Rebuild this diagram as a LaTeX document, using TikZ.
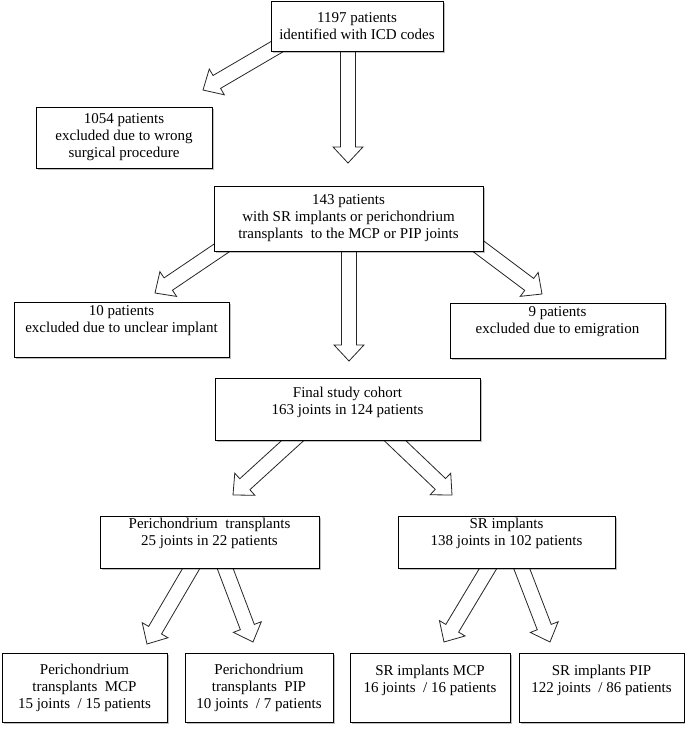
\documentclass[tikz,border=0pt]{standalone}
\usepackage{fontspec}
\setmainfont{Liberation Serif}
\usetikzlibrary{calc,shadows,backgrounds}

% hollow block arrow from #1 to the tip #2
\newcommand{\blockarrow}[2]{%
	\coordinate (hb) at ($(#2)!12pt!(#1)$);
	\draw [hollow] ($(#1)!5.6pt!90:(#2)$) -- ($(hb)!5.6pt!90:(#2)$) -- ($(hb)!11.2pt!90:(#2)$) -- (#2)
		-- ($(hb)!11.2pt!-90:(#2)$) -- ($(hb)!5.6pt!-90:(#2)$) -- ($(#1)!5.6pt!-90:(#2)$) -- cycle;}

\begin{document}
\begin{tikzpicture}[x=0.75pt,y=-0.75pt,
		box/.style={draw, line width=0.75pt, fill=white, align=center, inner sep=0pt,
			font=\fontsize{11.25}{12.75}\selectfont,
			drop shadow={shadow xshift=1.2pt, shadow yshift=-1.2pt, fill=black, opacity=0.25}},
		hollow/.style={draw=black!85, line width=0.6pt, fill=white, line join=miter}]
		\useasboundingbox (0,0) rectangle (685,729);
		\node [box, minimum width=129pt, minimum height=37.5pt] (Id) at (357,26) {1197 patients\\identified with ICD codes};
		\node [box, minimum width=132pt, minimum height=45.75pt] (Wr) at (124,137.5) {1054 patients\\excluded due to wrong\\surgical procedure};
		\node [box, minimum width=201.75pt, minimum height=48.75pt] (Sr) at (348.5,218.5) {143 patients\\with SR implants or perichondrium\\transplants\ \ to the MCP or PIP joints};
		\node [box, minimum width=161.25pt, minimum height=41.25pt] (Un) at (121.5,329.5) {10 patients\\excluded due to unclear implant\\[3pt]};
		\node [box, minimum width=161.25pt, minimum height=41.25pt] (Em) at (557.5,330.5) {9 patients\\excluded due to emigration\\[3pt]};
		\node [box, minimum width=198.75pt, minimum height=46.5pt] (Fc) at (347.5,409) {Final study cohort\\163 joints in 124 patients\\\mbox{}};
		\node [box, minimum width=164.25pt, minimum height=39pt] (Pt) at (209.5,542) {Perichondrium\ \ transplants\\25 joints in 22 patients\\[3pt]};
		\node [box, minimum width=162.75pt, minimum height=39pt] (Si) at (506.5,542) {SR implants\\138 joints in 102 patients\\[3pt]};
		\node [box, minimum width=123.75pt, minimum height=51.75pt] (PtM) at (84.5,687.5) {Perichondrium\\transplants\ \ MCP\\15 joints\ \ / 15 patients};
		\node [box, minimum width=111pt, minimum height=51.75pt] (PtP) at (259,687.5) {Perichondrium\\transplants\ \ PIP\\10 joints\ \ / 7 patients};
		\node [box, minimum width=120pt, minimum height=51.75pt] (SiM) at (430,687.5) {SR implants MCP\\16 joints\ \ / 16 patients\\\mbox{}};
		\node [box, minimum width=123.75pt, minimum height=51.75pt] (SiP) at (601.5,687.5) {SR implants PIP\\122 joints\ \ / 86 patients\\\mbox{}};
		\begin{scope}[on background layer]
			\coordinate (Id1) at (285,42);
			\coordinate (Id2) at (348,45);
			\coordinate (Wr0) at (203,90);
			\coordinate (Sr0) at (348,163);
			\coordinate (Sr1) at (229,243);
			\coordinate (Sr2) at (349,245);
			\coordinate (Sr3) at (470,240);
			\coordinate (Un0) at (155,293);
			\coordinate (Fc0) at (349,361);
			\coordinate (Em0) at (542,294);
			\coordinate (Fc1) at (301,433);
			\coordinate (Fc2) at (387,433);
			\coordinate (Pt0) at (233,495);
			\coordinate (Si0) at (452,495);
			\coordinate (Pt1) at (195,562);
			\coordinate (Pt2) at (222.5,561.5);
			\coordinate (Si1) at (492,562);
			\coordinate (Si2) at (519,561.5);
			\coordinate (PtM0) at (147,644);
			\coordinate (PtP0) at (253,642);
			\coordinate (SiM0) at (444,642);
			\coordinate (SiP0) at (550,642);
			\blockarrow{Id1}{Wr0}
			\blockarrow{Id2}{Sr0}
			\blockarrow{Sr1}{Un0}
			\blockarrow{Sr2}{Fc0}
			\blockarrow{Sr3}{Em0}
			\blockarrow{Fc1}{Pt0}
			\blockarrow{Fc2}{Si0}
			\blockarrow{Pt1}{PtM0}
			\blockarrow{Pt2}{PtP0}
			\blockarrow{Si1}{SiM0}
			\blockarrow{Si2}{SiP0}
		\end{scope}
	\end{tikzpicture}
\end{document}
